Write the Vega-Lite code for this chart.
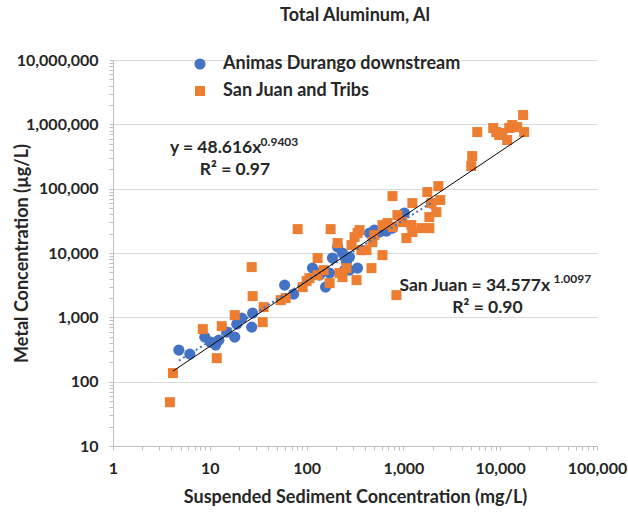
{
  "$schema": "https://vega.github.io/schema/vega-lite/v6.json",
  "width": 484,
  "height": 386,
  "autosize": "none",
  "padding": {"left": 113, "top": 60, "right": 31, "bottom": 66},
  "background": "white",
  "title": {
    "text": "Total Aluminum, Al",
    "font": "Lato",
    "fontSize": 18,
    "fontWeight": "bold",
    "color": "#262626",
    "anchor": "middle",
    "frame": "group",
    "offset": 27
  },
  "config": {
    "view": {"stroke": null},
    "axis": {
      "labelFont": "Lato",
      "labelFontWeight": "bold",
      "labelFontSize": 16,
      "labelColor": "#262626",
      "titleFont": "Lato",
      "titleFontWeight": "bold",
      "titleFontSize": 18,
      "titleColor": "#262626",
      "domainColor": "#BFBFBF",
      "tickColor": "#BFBFBF",
      "tickSize": 4,
      "labelOverlap": false,
      "labelBound": false,
      "labelFlush": false
    }
  },
  "datasets": {
    "samples": [
      {"ssc": 4.79, "metal": 309, "site": "Animas Durango downstream"},
      {"ssc": 6.22, "metal": 268, "site": "Animas Durango downstream"},
      {"ssc": 8.88, "metal": 492, "site": "Animas Durango downstream"},
      {"ssc": 10.2, "metal": 411, "site": "Animas Durango downstream"},
      {"ssc": 11.5, "metal": 370, "site": "Animas Durango downstream"},
      {"ssc": 12.4, "metal": 442, "site": "Animas Durango downstream"},
      {"ssc": 15.0, "metal": 589, "site": "Animas Durango downstream"},
      {"ssc": 18.1, "metal": 492, "site": "Animas Durango downstream"},
      {"ssc": 19.0, "metal": 784, "site": "Animas Durango downstream"},
      {"ssc": 21.4, "metal": 972, "site": "Animas Durango downstream"},
      {"ssc": 27.1, "metal": 704, "site": "Animas Durango downstream"},
      {"ssc": 27.7, "metal": 1162, "site": "Animas Durango downstream"},
      {"ssc": 59.3, "metal": 3170, "site": "Animas Durango downstream"},
      {"ssc": 73.5, "metal": 2296, "site": "Animas Durango downstream"},
      {"ssc": 115, "metal": 5820, "site": "Animas Durango downstream"},
      {"ssc": 136, "metal": 4530, "site": "Animas Durango downstream"},
      {"ssc": 143, "metal": 5050, "site": "Animas Durango downstream"},
      {"ssc": 157, "metal": 2950, "site": "Animas Durango downstream"},
      {"ssc": 173, "metal": 4870, "site": "Animas Durango downstream"},
      {"ssc": 185, "metal": 8340, "site": "Animas Durango downstream"},
      {"ssc": 209, "metal": 12360, "site": "Animas Durango downstream"},
      {"ssc": 235, "metal": 9960, "site": "Animas Durango downstream"},
      {"ssc": 247, "metal": 5420, "site": "Animas Durango downstream"},
      {"ssc": 258, "metal": 7220, "site": "Animas Durango downstream"},
      {"ssc": 277, "metal": 8630, "site": "Animas Durango downstream"},
      {"ssc": 277, "metal": 5420, "site": "Animas Durango downstream"},
      {"ssc": 336, "metal": 5820, "site": "Animas Durango downstream"},
      {"ssc": 446, "metal": 20400, "site": "Animas Durango downstream"},
      {"ssc": 502, "metal": 22700, "site": "Animas Durango downstream"},
      {"ssc": 566, "metal": 21100, "site": "Animas Durango downstream"},
      {"ssc": 668, "metal": 21900, "site": "Animas Durango downstream"},
      {"ssc": 771, "metal": 24400, "site": "Animas Durango downstream"},
      {"ssc": 1023, "metal": 41800, "site": "Animas Durango downstream"},
      {"ssc": 1945, "metal": 59700, "site": "Animas Durango downstream"},
      {"ssc": 3.87, "metal": 48, "site": "San Juan and Tribs"},
      {"ssc": 4.16, "metal": 136, "site": "San Juan and Tribs"},
      {"ssc": 8.47, "metal": 656, "site": "San Juan and Tribs"},
      {"ssc": 11.8, "metal": 232, "site": "San Juan and Tribs"},
      {"ssc": 13.3, "metal": 730, "site": "San Juan and Tribs"},
      {"ssc": 18.1, "metal": 1082, "site": "San Juan and Tribs"},
      {"ssc": 27.1, "metal": 6040, "site": "San Juan and Tribs"},
      {"ssc": 27.7, "metal": 2138, "site": "San Juan and Tribs"},
      {"ssc": 35.2, "metal": 842, "site": "San Juan and Tribs"},
      {"ssc": 36.0, "metal": 1442, "site": "San Juan and Tribs"},
      {"ssc": 54.0, "metal": 1850, "site": "San Juan and Tribs"},
      {"ssc": 60.8, "metal": 1990, "site": "San Juan and Tribs"},
      {"ssc": 80.8, "metal": 23500, "site": "San Juan and Tribs"},
      {"ssc": 91.0, "metal": 2950, "site": "San Juan and Tribs"},
      {"ssc": 100, "metal": 3660, "site": "San Juan and Tribs"},
      {"ssc": 107, "metal": 4070, "site": "San Juan and Tribs"},
      {"ssc": 130, "metal": 8340, "site": "San Juan and Tribs"},
      {"ssc": 130, "metal": 4530, "site": "San Juan and Tribs"},
      {"ssc": 150, "metal": 5420, "site": "San Juan and Tribs"},
      {"ssc": 173, "metal": 3400, "site": "San Juan and Tribs"},
      {"ssc": 177, "metal": 23500, "site": "San Juan and Tribs"},
      {"ssc": 209, "metal": 14260, "site": "San Juan and Tribs"},
      {"ssc": 219, "metal": 4870, "site": "San Juan and Tribs"},
      {"ssc": 235, "metal": 4220, "site": "San Juan and Tribs"},
      {"ssc": 258, "metal": 5820, "site": "San Juan and Tribs"},
      {"ssc": 291, "metal": 13270, "site": "San Juan and Tribs"},
      {"ssc": 328, "metal": 3790, "site": "San Juan and Tribs"},
      {"ssc": 313, "metal": 17660, "site": "San Juan and Tribs"},
      {"ssc": 336, "metal": 20400, "site": "San Juan and Tribs"},
      {"ssc": 352, "metal": 22700, "site": "San Juan and Tribs"},
      {"ssc": 369, "metal": 11090, "site": "San Juan and Tribs"},
      {"ssc": 415, "metal": 11090, "site": "San Juan and Tribs"},
      {"ssc": 468, "metal": 5820, "site": "San Juan and Tribs"},
      {"ssc": 479, "metal": 14780, "site": "San Juan and Tribs"},
      {"ssc": 502, "metal": 18980, "site": "San Juan and Tribs"},
      {"ssc": 608, "metal": 27160, "site": "San Juan and Tribs"},
      {"ssc": 608, "metal": 9270, "site": "San Juan and Tribs"},
      {"ssc": 684, "metal": 29170, "site": "San Juan and Tribs"},
      {"ssc": 771, "metal": 76700, "site": "San Juan and Tribs"},
      {"ssc": 771, "metal": 25290, "site": "San Juan and Tribs"},
      {"ssc": 847, "metal": 2215, "site": "San Juan and Tribs"},
      {"ssc": 867, "metal": 38840, "site": "San Juan and Tribs"},
      {"ssc": 977, "metal": 30260, "site": "San Juan and Tribs"},
      {"ssc": 1074, "metal": 17060, "site": "San Juan and Tribs"},
      {"ssc": 1209, "metal": 27160, "site": "San Juan and Tribs"},
      {"ssc": 1238, "metal": 59700, "site": "San Juan and Tribs"},
      {"ssc": 1238, "metal": 21130, "site": "San Juan and Tribs"},
      {"ssc": 1535, "metal": 24380, "site": "San Juan and Tribs"},
      {"ssc": 1767, "metal": 88500, "site": "San Juan and Tribs"},
      {"ssc": 1853, "metal": 24380, "site": "San Juan and Tribs"},
      {"ssc": 1853, "metal": 36170, "site": "San Juan and Tribs"},
      {"ssc": 1945, "metal": 59700, "site": "San Juan and Tribs"},
      {"ssc": 2188, "metal": 43250, "site": "San Juan and Tribs"},
      {"ssc": 2296, "metal": 109700, "site": "San Juan and Tribs"},
      {"ssc": 2405, "metal": 66500, "site": "San Juan and Tribs"},
      {"ssc": 5023, "metal": 224600, "site": "San Juan and Tribs"},
      {"ssc": 5140, "metal": 321300, "site": "San Juan and Tribs"},
      {"ssc": 5794, "metal": 759000, "site": "San Juan and Tribs"},
      {"ssc": 8470, "metal": 875700, "site": "San Juan and Tribs"},
      {"ssc": 9096, "metal": 759000, "site": "San Juan and Tribs"},
      {"ssc": 9766, "metal": 682000, "site": "San Juan and Tribs"},
      {"ssc": 10490, "metal": 732000, "site": "San Juan and Tribs"},
      {"ssc": 11810, "metal": 570000, "site": "San Juan and Tribs"},
      {"ssc": 12390, "metal": 875700, "site": "San Juan and Tribs"},
      {"ssc": 13300, "metal": 975000, "site": "San Juan and Tribs"},
      {"ssc": 14970, "metal": 907000, "site": "San Juan and Tribs"},
      {"ssc": 17260, "metal": 1396000, "site": "San Juan and Tribs"},
      {"ssc": 17660, "metal": 759000, "site": "San Juan and Tribs"}
    ],
    "animasFit": [
      {"ssc": 4.79, "metal": 212},
      {"ssc": 1945, "metal": 60200}
    ],
    "sanJuanFit": [
      {"ssc": 4.16, "metal": 145.8},
      {"ssc": 17660, "metal": 671400}
    ],
    "equations": [
      {"ssc": 3.87, "metal": 428000, "label": "y = 48.616x"},
      {"ssc": 7.88, "metal": 194600, "label": "R² = 0.97"},
      {"ssc": 910, "metal": 3100, "label": "San Juan = 34.577x"},
      {"ssc": 3200, "metal": 1420, "label": "R² = 0.90"}
    ],
    "exponents": [
      {"ssc": 33.5, "metal": 525000, "label": "0.9403"},
      {"ssc": 35500, "metal": 3950, "label": "1.0097"}
    ]
  },
  "encoding": {
    "x": {
      "field": "ssc",
      "type": "quantitative",
      "scale": {"type": "log", "domain": [1, 100000], "nice": false},
      "axis": {
        "title": "Suspended Sediment Concentration (mg/L)",
        "values": [1, 2, 3, 4, 5, 6, 7, 8, 9, 10, 20, 30, 40, 50, 60, 70, 80, 90, 100, 200, 300, 400, 500, 600, 700, 800, 900, 1000, 2000, 3000, 4000, 5000, 6000, 7000, 8000, 9000, 10000, 20000, 30000, 40000, 50000, 60000, 70000, 80000, 90000, 100000],
        "labelExpr": "indexof([1, 10, 100, 1000, 10000, 100000], datum.value) >= 0 ? format(datum.value, ',') : ''",
        "labelPadding": 10,
        "grid": false,
        "titleY": 51,
        "titleBaseline": "middle"
      }
    },
    "y": {
      "field": "metal",
      "type": "quantitative",
      "scale": {"type": "log", "domain": [10, 10000000], "nice": false},
      "axis": {
        "title": "Metal Concentration (µg/L)",
        "values": [10, 20, 30, 40, 50, 60, 70, 80, 90, 100, 200, 300, 400, 500, 600, 700, 800, 900, 1000, 2000, 3000, 4000, 5000, 6000, 7000, 8000, 9000, 10000, 20000, 30000, 40000, 50000, 60000, 70000, 80000, 90000, 100000, 200000, 300000, 400000, 500000, 600000, 700000, 800000, 900000, 1000000, 2000000, 3000000, 4000000, 5000000, 6000000, 7000000, 8000000, 9000000, 10000000],
        "labelExpr": "indexof([10, 100, 1000, 10000, 100000, 1000000, 10000000], datum.value) >= 0 ? format(datum.value, ',') : ''",
        "labelPadding": 11,
        "grid": true,
        "gridColor": "#D9D9D9",
        "gridOpacity": {
          "condition": {"test": "indexof([10, 100, 1000, 10000, 100000, 1000000, 10000000], datum.value) >= 0", "value": 1},
          "value": 0
        },
        "titleX": -91,
        "titleY": 193,
        "titleBaseline": "middle"
      }
    }
  },
  "layer": [
    {
      "data": {"name": "samples"},
      "mark": {"type": "point", "filled": true, "opacity": 1},
      "encoding": {
        "color": {
          "field": "site",
          "type": "nominal",
          "scale": {"domain": ["Animas Durango downstream", "San Juan and Tribs"], "range": ["#4472C4", "#ED7D31"]},
          "legend": {
            "orient": "none",
            "legendX": 78,
            "legendY": -5,
            "title": null,
            "labelFont": "Lato",
            "labelFontSize": 18,
            "labelFontWeight": "bold",
            "labelColor": "#262626",
            "labelLimit": 0,
            "labelOffset": 14,
            "rowPadding": 9,
            "symbolSize": 110
          }
        },
        "shape": {
          "field": "site",
          "type": "nominal",
          "scale": {"domain": ["Animas Durango downstream", "San Juan and Tribs"], "range": ["circle", "square"]},
          "legend": {
            "orient": "none",
            "legendX": 78,
            "legendY": -5,
            "title": null,
            "labelFont": "Lato",
            "labelFontSize": 18,
            "labelFontWeight": "bold",
            "labelColor": "#262626",
            "labelLimit": 0,
            "labelOffset": 14,
            "rowPadding": 9,
            "symbolSize": 110
          }
        },
        "size": {
          "field": "site",
          "type": "nominal",
          "scale": {"domain": ["Animas Durango downstream", "San Juan and Tribs"], "range": [125, 100]},
          "legend": null
        },
        "order": {"field": "site", "sort": "ascending"}
      }
    },
    {
      "data": {"name": "animasFit"},
      "mark": {"type": "line", "color": "#4472C4", "strokeWidth": 2, "strokeDash": [2, 3]},
      "encoding": {}
    },
    {
      "data": {"name": "sanJuanFit"},
      "mark": {"type": "line", "color": "#000000", "strokeWidth": 1},
      "encoding": {}
    },
    {
      "data": {"name": "equations"},
      "mark": {"type": "text", "align": "left", "baseline": "middle", "font": "Lato", "fontSize": 17.5, "fontWeight": "bold", "color": "#262626"},
      "encoding": {"text": {"field": "label"}}
    },
    {
      "data": {"name": "exponents"},
      "mark": {"type": "text", "align": "left", "baseline": "middle", "font": "Lato", "fontSize": 12, "fontWeight": "bold", "color": "#262626"},
      "encoding": {"text": {"field": "label"}}
    }
  ]
}
